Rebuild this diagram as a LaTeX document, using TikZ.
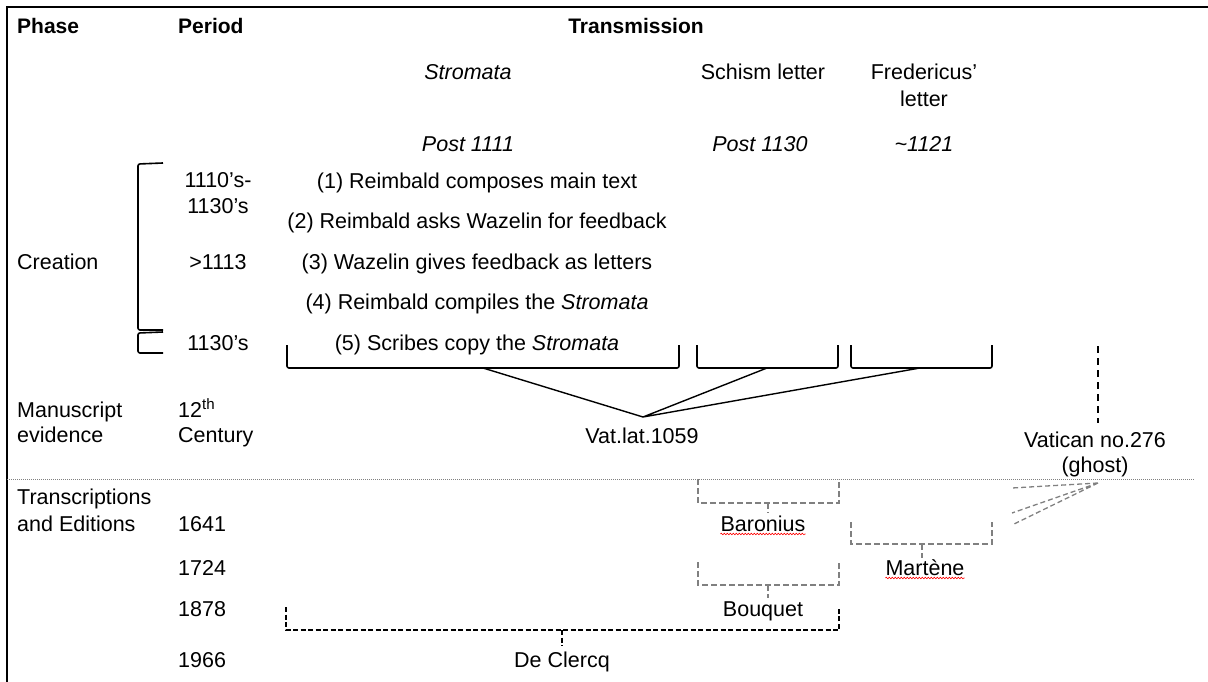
\documentclass[tikz,border=0pt]{standalone}
\usepackage{fontspec}
\setmainfont{Liberation Sans}
\usetikzlibrary{decorations.pathmorphing}

\begin{document}
\begin{tikzpicture}[x=1pt,y=-1pt,
    lbl/.style={font=\fontsize{21.5}{25}\selectfont, inner sep=0pt, anchor=base},
    lft/.style={lbl, anchor=base west},
    itl/.style={lbl, font=\fontsize{21.5}{25}\selectfont\itshape},
    hdr/.style={lbl, font=\fontsize{21}{25}\selectfont\bfseries},
    brk/.style={line width=1.6pt, rounded corners=2pt},
    gbrk/.style={draw=gray, line width=1.6pt, dash pattern=on 6pt off 3pt},
    kbrk/.style={line width=1.4pt, dash pattern=on 5pt off 2.5pt},
    gline/.style={draw=gray, line width=1.3pt, dash pattern=on 5pt off 3pt},
    squig/.style={draw=red, line width=0.6pt, decorate,
        decoration={snake, amplitude=0.8pt, segment length=3pt}}]

    \useasboundingbox (0,0) rectangle (1208,682);
    \draw[line width=2pt] (7,682) -- (7,7) -- (1208,7);

    % headers
    \node[hdr, anchor=base west] (phase) at (17,34) {Phase};
    \node[hdr, anchor=base west] (period) at (178,34) {Period};
    \node[hdr] (trans) at (636,34) {Transmission};

    \node[itl] (strom) at (468,80) {Stromata};
    \node[lbl] (schism) at (763,80) {Schism letter};
    \node[lbl] (fred) at (924,80) {Fredericus’};
    \node[lbl] (fredb) at (924,107) {letter};
    \node[itl] (dstrom) at (468,152) {Post 1111};
    \node[itl] (dschism) at (760,152) {Post 1130};
    \node[itl] (dfred) at (924,152) {\textasciitilde 1121};

    % creation
    \node[lbl] (step1) at (477,189) {(1) Reimbald composes main text};
    \node[lbl] (step2) at (477,229) {(2) Reimbald asks Wazelin for feedback};
    \node[lbl] (step3) at (477,269) {(3) Wazelin gives feedback as letters};
    \node[lbl] (step4) at (477,309) {(4) Reimbald compiles the \textit{Stromata}};
    \node[lbl] (step5) at (477,350) {(5) Scribes copy the \textit{Stromata}};

    % periods
    \node[lbl] (p1a) at (218,187) {1110’s-};
    \node[lbl] (p1b) at (218,214) {1130’s};
    \node[lbl] (p2) at (218,269) {>1113};
    \node[lbl] (p3) at (218,350) {1130’s};
    \node[lft] (p4a) at (178,417) {12\textsuperscript{th}};
    \node[lft] (p4b) at (178,442) {Century};
    \node[lft] (p5) at (178,531) {1641};
    \node[lft] (p6) at (178,575) {1724};
    \node[lft] (p7) at (178,616) {1878};
    \node[lft] (p8) at (178,667) {1966};

    % phases
    \node[lft] (creation) at (17,269) {Creation};
    \node[lft] (manu) at (17,417) {Manuscript};
    \node[lft] (manub) at (17,442) {evidence};
    \node[lft] (editions) at (17,504) {Transcriptions};
    \node[lft] (editionsb) at (17,531) {and Editions};

    \draw[brk] (163,163) -- (138,164) -- (138,330) -- (163,330);
    \draw[brk] (163,332) -- (138,333) -- (138,353) -- (163,353);

    % manuscripts
    \node[lbl] (vatlat) at (642,443) {Vat.lat.1059};
    \node[lbl] (vatican) at (1095,447) {Vatican no.276};
    \node[lbl] (ghost) at (1095,472) {(ghost)};

    \draw[brk] (287,345) -- (287,368) -- (679,368) -- (679,345);
    \draw[brk] (697,345) -- (697,368) -- (838,368) -- (838,345);
    \draw[brk] (851,345) -- (851,368) -- (992,368) -- (992,345);
    \coordinate (strom-c) at (483,368);
    \coordinate (schism-c) at (767,368);
    \coordinate (fred-c) at (920,368);
    \coordinate (vat-c) at (643,417);
    \draw[line width=1.4pt] (strom-c) -- (vat-c) -- (schism-c) (vat-c) -- (fred-c);

    \coordinate (ghost-top) at (1098,346);
    \coordinate (ghost-bot) at (1098,423);
    \draw[line width=1.6pt, dash pattern=on 7pt off 5pt] (ghost-top) -- (ghost-bot);

    \draw[gray, line width=1pt, dash pattern=on 1pt off 1pt] (7,479) -- (1195,479);

    % editions
    \node[lbl] (baronius) at (763,531) {Baronius};
    \node[lbl] (martene) at (925,575) {Martène};
    \node[lbl] (bouquet) at (763,616) {Bouquet};
    \node[lbl] (declercq) at (562,667) {De Clercq};
    \draw[squig] ([yshift=-3pt]baronius.base west) -- ([yshift=-3pt]baronius.base east);
    \draw[squig] ([yshift=-3pt]martene.base west) -- ([yshift=-3pt]martene.base east);

    \draw[gbrk] (698,479) -- (698,503) -- (839,503) -- (839,479);
    \draw[gbrk] (851,522) -- (851,544) -- (992,544) -- (992,522);
    \draw[gbrk] (698,562) -- (698,585) -- (839,585) -- (839,562);
    \draw[kbrk] (286,607) -- (286,630) -- (839,630) -- (839,607);
    \coordinate (bar-c) at (768,503);
    \coordinate (mar-c) at (922,544);
    \coordinate (bou-c) at (768,585);
    \coordinate (dec-c) at (562,630);
    \draw[gbrk, shorten >=3pt] (bar-c) -- (bar-c |- baronius.north);
    \draw[gbrk] (mar-c) -- ++(0,14);
    \draw[gbrk, shorten >=3pt] (bou-c) -- (bou-c |- bouquet.north);
    \draw[kbrk, shorten >=6pt] (dec-c) -- (dec-c |- declercq.north);

    \coordinate (ghost-src) at (1098,483);
    \coordinate (g1) at (1012,488);
    \coordinate (g2) at (1012,513);
    \coordinate (g3) at (1012,525);
    \draw[gline] (ghost-src) -- (g1) (ghost-src) -- (g2) (ghost-src) -- (g3);
\end{tikzpicture}
\end{document}
